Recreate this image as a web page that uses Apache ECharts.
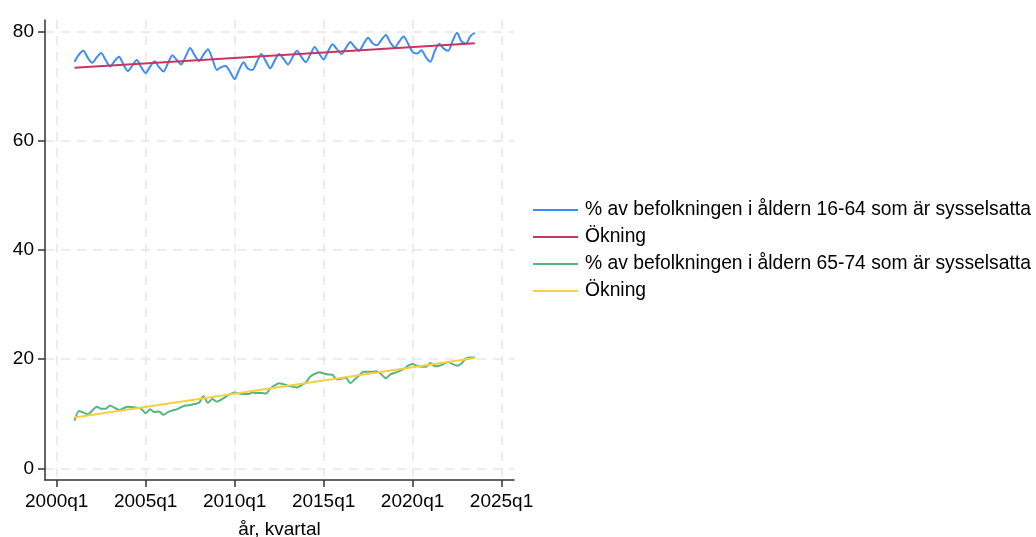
<!DOCTYPE html>
<html>
<head>
<meta charset="utf-8">
<script src="https://cdn.jsdelivr.net/npm/echarts@6/dist/echarts.min.js"></script>
<style>
  html, body { margin: 0; padding: 0; background: #fff; }
  #chart { width: 1036px; height: 537px; }
</style>
</head>
<body>
<div id="chart"></div>
<script>
// quarter index: 0 = 2000q1
const startQuarter = 4; // 2001q1
const xTicks = [0, 20, 40, 60, 80, 100];
const yTicks = [0, 20, 40, 60, 80];

const names = [
  '% av befolkningen i åldern 16-64 som är sysselsatta',
  'Ökning',
  '% av befolkningen i åldern 65-74 som är sysselsatta',
  'Ökning'
];

const emp1664 = [
  74.5, 75.8, 76.5, 75.2,
  74.3, 75.3, 76.1, 74.8,
  73.6, 74.6, 75.4, 74.0,
  72.8, 73.8, 74.8, 73.5,
  72.4, 73.6, 74.6, 73.5,
  72.7, 74.2, 75.7, 74.8,
  74.0, 75.5, 77.0, 75.7,
  74.6, 75.8, 76.8, 75.0,
  73.0, 73.5, 73.7, 72.6,
  71.3, 73.0, 74.4, 73.2,
  73.0, 74.5, 75.9, 74.6,
  73.3, 74.7, 75.9, 75.0,
  74.0, 75.3, 76.5, 75.4,
  74.4, 75.8, 77.2, 76.0,
  74.9, 76.4, 77.7, 76.8,
  75.9, 77.0, 78.1, 77.2,
  76.5, 77.8, 78.9, 77.9,
  77.5, 78.5, 79.4, 78.0,
  77.1, 78.2, 79.1, 77.8,
  76.3, 76.0, 76.6, 75.3,
  74.5, 76.5, 77.8, 76.9,
  76.5, 78.3, 79.8, 78.2,
  77.8, 79.2, 79.8
];

const emp6574 = [
  8.7, 10.5, 10.2, 9.9,
  10.6, 11.3, 10.9, 10.9,
  11.5, 11.1, 10.7, 11.0,
  11.3, 11.2, 11.1, 10.9,
  10.1, 10.8, 10.3, 10.4,
  9.8, 10.3, 10.6, 10.8,
  11.2, 11.5, 11.6, 11.8,
  12.0, 13.2, 12.0, 12.7,
  12.2, 12.6, 13.1, 13.6,
  13.9, 13.7, 13.6, 13.6,
  13.9, 13.8, 13.8, 13.7,
  14.6, 15.2, 15.6, 15.4,
  15.1, 15.0, 14.8, 15.2,
  15.7, 16.8, 17.3, 17.6,
  17.4, 17.2, 17.1, 16.3,
  16.4, 16.6, 15.6, 16.3,
  17.0, 17.7, 17.7, 17.7,
  17.8, 17.2, 16.5, 17.2,
  17.5, 17.8, 18.2, 18.8,
  19.1, 18.8, 18.6, 18.6,
  19.3, 18.7, 18.8, 19.1,
  19.5, 19.1, 18.8, 19.2,
  20.1, 20.3, 20.3
];

// trend lines: [quarter, value] at start and end
const trend1664 = [[4, 73.4], [94, 77.9]];
const trend6574 = [[4, 9.3], [94, 20.2]];

const colors = ['#3f8cf5', '#c93460', '#55b57f', '#f6cf45'];

const toPairs = (arr) => arr.map((v, i) => [startQuarter + i, v]);
const quarterLabel = (t) => (2000 + Math.floor(t / 4)) + 'q' + (t % 4 + 1);

const chart = echarts.init(document.getElementById('chart'));
const fontFamily = '"Liberation Sans", Arial, Helvetica, sans-serif';
const gridLine = { show: true, lineStyle: { color: '#e6e6e6', width: 1.5, type: [9, 7] } };

const line = (name, data, color) => ({
  name: name,
  type: 'line',
  data: data,
  symbol: 'none',
  smooth: 0.25,
  lineStyle: { color: color, width: 2 },
  itemStyle: { color: color },
  emphasis: { disabled: true }
});

chart.setOption({
  animation: false,
  textStyle: { fontFamily: fontFamily },
  grid: { left: 45, right: 522, top: 20, bottom: 57, containLabel: false, outerBoundsMode: 'none' },
  legend: {
    orient: 'vertical',
    left: 528,
    top: 195,
    itemWidth: 45,
    itemHeight: 14,
    itemGap: 7,
    icon: 'path://M0,6H45V8H0Z',
    textStyle: { fontSize: 19.3, color: '#000', lineHeight: 20, padding: [0, 0, 0, 2], fontFamily: fontFamily },
    data: [
      { name: names[0], itemStyle: { color: colors[0] } },
      { name: names[1] },
      { name: names[2], itemStyle: { color: colors[2] } },
      { name: names[3] + ' ' }
    ]
  },
  xAxis: {
    type: 'value',
    min: -2.63,
    max: 102.8,
    name: 'år, kvartal',
    nameLocation: 'middle',
    nameGap: 40,
    nameTextStyle: { fontSize: 19, color: '#000', fontFamily: fontFamily },
    axisLine: { show: true, onZero: false, lineStyle: { color: '#333', width: 1.5 } },
    axisTick: { show: true, length: 7, customValues: xTicks, lineStyle: { color: '#333', width: 1.5 } },
    axisLabel: { customValues: xTicks, fontSize: 19, color: '#000', margin: 12, formatter: (v) => quarterLabel(Math.round(v)) },
    splitLine: gridLine
  },
  yAxis: {
    type: 'value',
    min: -2.14,
    max: 82.14,
    axisLine: { show: true, onZero: false, lineStyle: { color: '#333', width: 1.5 } },
    axisTick: { show: true, length: 7, customValues: yTicks, lineStyle: { color: '#333', width: 1.5 } },
    axisLabel: { customValues: yTicks, fontSize: 19, color: '#000', margin: 11 },
    splitLine: gridLine
  },
  series: [
    line(names[0], toPairs(emp1664), colors[0]),
    Object.assign(line(names[1], trend1664, colors[1]), { smooth: false }),
    line(names[2], toPairs(emp6574), colors[2]),
    Object.assign(line(names[3] + ' ', trend6574, colors[3]), { smooth: false })
  ]
});
</script>
</body>
</html>
